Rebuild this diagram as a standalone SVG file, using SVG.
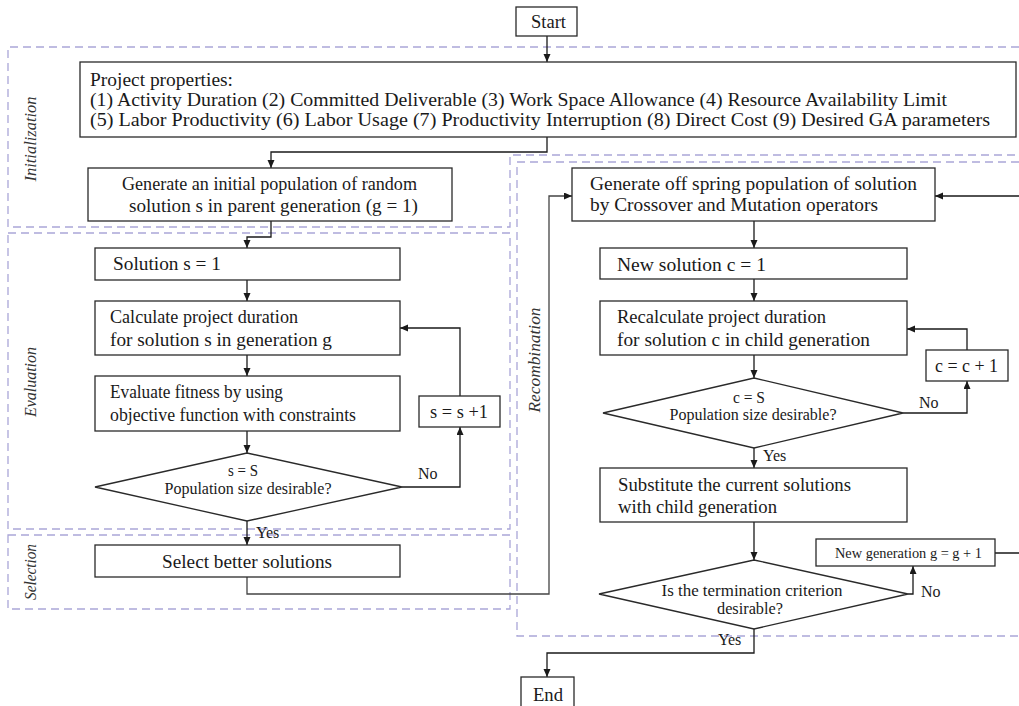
<svg xmlns="http://www.w3.org/2000/svg" width="1019" height="706" viewBox="0 0 1019 706" xml:space="preserve">
<style>
.bg{fill:#ffffff}
.box{fill:#ffffff;stroke:#2a2a2a;stroke-width:1.3}
.zone{fill:none;stroke:#aaa6d8;stroke-width:1.3;stroke-dasharray:8 5}
.con{fill:none;stroke:#1a1a1a;stroke-width:1.3}
.t{font-family:"Liberation Serif","Times New Roman",serif;font-size:18px;fill:#1a1a1a}
.p{font-family:"Liberation Serif","Times New Roman",serif;font-size:19px;fill:#1a1a1a}
.s{font-family:"Liberation Serif","Times New Roman",serif;font-size:16px;fill:#1a1a1a}
.xs{font-family:"Liberation Serif","Times New Roman",serif;font-size:14.5px;fill:#1a1a1a}
.lab{font-family:"Liberation Serif","Times New Roman",serif;font-size:16px;font-style:italic;fill:#333}
.m{text-anchor:middle}
</style>
<defs>
<marker id="ah" markerUnits="userSpaceOnUse" markerWidth="9" markerHeight="8" refX="8" refY="3.5" orient="auto">
<path d="M0,0 L8,3.5 L0,7 z" fill="#1a1a1a"/>
</marker>
</defs>
<rect class="bg" x="0" y="0" width="1019" height="706"/>

<g id="zones">
<path class="zone" d="M1019,47 H8 V227 H510 V155 H1019"/>
<rect class="zone" x="8" y="233" width="502" height="296"/>
<rect class="zone" x="8" y="535" width="502" height="74"/>
<path class="zone" d="M1019,162 H517 V636 H1019"/>
<text class="lab m" transform="translate(36,139) rotate(-90)" textLength="85" lengthAdjust="spacingAndGlyphs">Initialization</text>
<text class="lab m" transform="translate(36,382) rotate(-90)" textLength="70" lengthAdjust="spacingAndGlyphs">Evaluation</text>
<text class="lab m" transform="translate(36,572) rotate(-90)" textLength="56" lengthAdjust="spacingAndGlyphs">Selection</text>
<text class="lab m" transform="translate(540,360) rotate(-90)" textLength="105" lengthAdjust="spacingAndGlyphs">Recombination</text>
</g>

<g id="connectors">
<path class="con" marker-end="url(#ah)" d="M547,36 V62"/>
<path class="con" marker-end="url(#ah)" d="M547,137 V152 H271 V168"/>
<path class="con" marker-end="url(#ah)" d="M271,221 V237 H247 V248"/>
<path class="con" marker-end="url(#ah)" d="M247,280 V301"/>
<path class="con" marker-end="url(#ah)" d="M247,355 V376"/>
<path class="con" marker-end="url(#ah)" d="M247,431 V453"/>
<path class="con" marker-end="url(#ah)" d="M402,487 H460 V427"/>
<path class="con" marker-end="url(#ah)" d="M460,396 V328 H400"/>
<path class="con" marker-end="url(#ah)" d="M247,521 V545"/>
<path class="con" marker-end="url(#ah)" style="stroke:#444" d="M247,577 V594 H549 V196 H572"/>
<path class="con" marker-end="url(#ah)" d="M995,553 H1030 V196 H935"/>
<path class="con" marker-end="url(#ah)" d="M754,221 V248"/>
<path class="con" marker-end="url(#ah)" d="M754,279 V301"/>
<path class="con" marker-end="url(#ah)" d="M754,355 V378"/>
<path class="con" marker-end="url(#ah)" d="M903,413 H967 V381"/>
<path class="con" marker-end="url(#ah)" d="M967,350 V329 H907"/>
<path class="con" marker-end="url(#ah)" d="M754,448 V468"/>
<path class="con" marker-end="url(#ah)" d="M754,522 V560"/>
<path class="con" marker-end="url(#ah)" d="M908,594 H913 V566"/>
<path class="con" marker-end="url(#ah)" d="M754,629 V653 H547 V677"/>
<text class="s" x="418" y="479">No</text>
<text class="s" x="256" y="538">Yes</text>
<text class="s" x="919" y="408">No</text>
<text class="s" x="763" y="461">Yes</text>
<text class="s" x="921" y="597">No</text>
<text class="s" x="718" y="645">Yes</text>
</g>

<g id="start">
<rect class="box" x="516" y="7" width="61" height="29"/>
<text class="t m" x="548.5" y="28" textLength="35" lengthAdjust="spacingAndGlyphs">Start</text>
</g>

<g id="project">
<rect class="box" x="80" y="62" width="936" height="75"/>
<text class="p" x="90" y="86" textLength="143" lengthAdjust="spacingAndGlyphs">Project properties:</text>
<text class="p" x="90" y="106" textLength="857" lengthAdjust="spacingAndGlyphs">(1)  Activity Duration  (2) Committed Deliverable  (3) Work Space Allowance  (4) Resource Availability Limit</text>
<text class="p" x="90" y="126" textLength="900" lengthAdjust="spacingAndGlyphs">(5)  Labor Productivity  (6) Labor Usage  (7) Productivity Interruption  (8) Direct Cost  (9) Desired GA parameters</text>
</g>

<g id="init-pop">
<rect class="box" x="88" y="168" width="364" height="53"/>
<text class="t" x="122" y="190" textLength="295" lengthAdjust="spacingAndGlyphs">Generate an initial population of random</text>
<text class="t" x="129" y="212" textLength="289" lengthAdjust="spacingAndGlyphs">solution s in parent generation (g  = 1)</text>
</g>

<g id="solution">
<rect class="box" x="95" y="248" width="305" height="32"/>
<text class="t" x="113" y="270" textLength="108" lengthAdjust="spacingAndGlyphs">Solution  s = 1</text>
</g>

<g id="calc">
<rect class="box" x="95" y="301" width="305" height="54"/>
<text class="t" x="110" y="323" textLength="188" lengthAdjust="spacingAndGlyphs">Calculate project duration</text>
<text class="t" x="110" y="346" textLength="222" lengthAdjust="spacingAndGlyphs">for solution s in generation g</text>
</g>

<g id="evaluate">
<rect class="box" x="95" y="376" width="305" height="55"/>
<text class="t" x="110" y="398" textLength="173" lengthAdjust="spacingAndGlyphs">Evaluate fitness by using</text>
<text class="t" x="110" y="421" textLength="246" lengthAdjust="spacingAndGlyphs">objective function with constraints</text>
</g>

<g id="decision-s">
<polygon class="box" points="247,453 402,487 247,521 95,487"/>
<text class="s m" x="243" y="476" textLength="30" lengthAdjust="spacingAndGlyphs">s = S</text>
<text class="s m" x="248" y="494" textLength="167" lengthAdjust="spacingAndGlyphs">Population size desirable?</text>
</g>

<g id="s-inc">
<rect class="box" x="419" y="396" width="81" height="31"/>
<text class="t m" x="459" y="418" textLength="58" lengthAdjust="spacingAndGlyphs">s = s +1</text>
</g>

<g id="select">
<rect class="box" x="95" y="545" width="305" height="32"/>
<text class="t m" x="247" y="568" textLength="170" lengthAdjust="spacingAndGlyphs">Select better solutions</text>
</g>

<g id="offspring">
<rect class="box" x="572" y="168" width="363" height="53"/>
<text class="t" x="590" y="190" textLength="327" lengthAdjust="spacingAndGlyphs">Generate off spring population of solution</text>
<text class="t" x="590" y="211" textLength="288" lengthAdjust="spacingAndGlyphs">by Crossover and Mutation operators</text>
</g>

<g id="new-solution">
<rect class="box" x="600" y="248" width="307" height="31"/>
<text class="t" x="617" y="271" textLength="149" lengthAdjust="spacingAndGlyphs">New solution   c = 1</text>
</g>

<g id="recalc">
<rect class="box" x="600" y="301" width="307" height="54"/>
<text class="t" x="617" y="323" textLength="209" lengthAdjust="spacingAndGlyphs">Recalculate  project duration</text>
<text class="t" x="617" y="346" textLength="253" lengthAdjust="spacingAndGlyphs">for solution c in child generation</text>
</g>

<g id="decision-c">
<polygon class="box" points="754,378 903,413 754,448 603,413"/>
<text class="s m" x="749" y="403" textLength="32" lengthAdjust="spacingAndGlyphs">c = S</text>
<text class="s m" x="753" y="420" textLength="167" lengthAdjust="spacingAndGlyphs">Population size desirable?</text>
</g>

<g id="c-inc">
<rect class="box" x="926" y="350" width="82" height="31"/>
<text class="t m" x="966.5" y="372" textLength="63" lengthAdjust="spacingAndGlyphs">c = c + 1</text>
</g>

<g id="substitute">
<rect class="box" x="600" y="468" width="307" height="54"/>
<text class="t" x="618" y="491" textLength="233" lengthAdjust="spacingAndGlyphs">Substitute the current solutions</text>
<text class="t" x="618" y="513" textLength="159" lengthAdjust="spacingAndGlyphs">with child generation</text>
</g>

<g id="termination">
<polygon class="box" points="754,560 908,594 754,629 599,594"/>
<text class="s m" x="752" y="596" textLength="181" lengthAdjust="spacingAndGlyphs">Is the termination criterion</text>
<text class="s m" x="750" y="614" textLength="66" lengthAdjust="spacingAndGlyphs">desirable?</text>
</g>

<g id="new-gen">
<rect class="box" x="816" y="539" width="179" height="27"/>
<text class="xs m" x="908.5" y="558" textLength="147" lengthAdjust="spacingAndGlyphs">New generation g = g + 1</text>
</g>

<g id="end">
<rect class="box" x="521" y="677" width="53" height="40"/>
<text class="t m" x="548" y="701" style="font-size:19px" textLength="30" lengthAdjust="spacingAndGlyphs">End</text>
</g>
</svg>
